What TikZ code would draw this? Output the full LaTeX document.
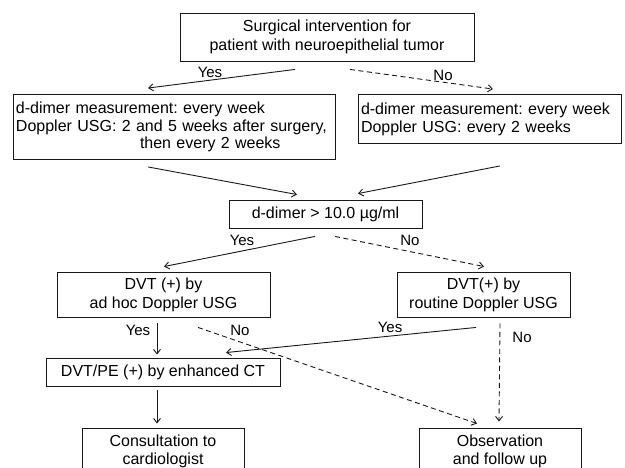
\documentclass[tikz,border=0pt]{standalone}
\usepackage{fontspec}
\setmainfont{Liberation Sans}
\usetikzlibrary{arrows.meta}
\begin{document}
\frenchspacing
\begin{tikzpicture}[x=1bp,y=-1bp,
  box/.style={draw=black!90, line width=0.9bp, inner sep=3bp, font=\fontsize{16bp}{19bp}\selectfont},
  arr/.style={draw=black!90, line width=0.9bp, -{Straight Barb[length=4.5bp,width=7bp]}},
  dsh/.style={arr, dash pattern=on 5bp off 3.5bp},
  lbl/.style={font=\fontsize{15bp}{18bp}\selectfont, inner sep=0pt}]
\useasboundingbox (0,0) rectangle (625,468);
\clip (0,0) rectangle (625,468);
% boxes
\node[box, minimum width=294bp, minimum height=48bp, align=center] (top) at (327,37)
  {Surgical intervention for\\patient with neuroepithelial tumor};
\node[box, minimum height=65bp, text width=316bp, align=left,
  font=\fontsize{16bp}{17.5bp}\selectfont] (lb) at (174,127)
  {d-dimer measurement: every week\\Doppler USG: 2 and 5 weeks after surgery,\\\hspace*{124bp}then every 2 weeks};
\node[box, minimum height=49bp, text width=257bp, align=left,
  font=\fontsize{16bp}{18bp}\selectfont] (rb) at (489.5,119)
  {d-dimer measurement: every week\\Doppler USG: every 2 weeks};
\node[box, minimum width=193bp, minimum height=28bp] (dd) at (325.5,214) {d-dimer > 10.0 µg/ml};
\node[box, minimum width=213bp, minimum height=45bp, align=center,
  font=\fontsize{16bp}{19bp}\selectfont] (dvl) at (163.5,294.5) {DVT (+) by\\ad hoc Doppler USG};
\node[box, minimum width=173bp, minimum height=45bp, align=center,
  font=\fontsize{16bp}{19bp}\selectfont] (dvr) at (483.5,294.5) {DVT(+) by\\routine Doppler USG};
\node[box, minimum width=234bp, minimum height=28bp] (ct) at (163,372) {DVT/PE (+) by enhanced CT};
\node[box, minimum width=162bp, minimum height=46bp, align=center,
  font=\fontsize{16bp}{18bp}\selectfont] (cons) at (163,451)
  {Consultation to\\cardiologist};
\node[box, minimum width=162bp, minimum height=46bp, align=center,
  font=\fontsize{16bp}{18bp}\selectfont] (obs) at (500,451)
  {Observation\\and follow up};
% connectors
\draw[arr] ([shift={(-32,8)}]top.south) -- ([shift={(-26,-6)}]lb.north);
\draw[dsh] ([shift={(23,8)}]top.south) -- ([shift={(3.5,-5)}]rb.north);
\draw[arr] ([shift={(-26,7)}]lb.south) -- ([shift={(-28.5,-5)}]dd.north);
\draw[arr] ([shift={(10.5,22)}]rb.south) -- ([shift={(32.5,-6)}]dd.north);
\draw[arr] ([shift={(-10.5,8)}]dd.south) -- ([shift={(0.5,-5)}]dvl.north);
\draw[dsh] ([shift={(9.5,8)}]dd.south) -- ([shift={(0.5,-5)}]dvr.north);
\draw[arr] ([shift={(-6.5,6)}]dvl.south) -- ([shift={(-6,-3)}]ct.north);
\draw[dsh] ([shift={(34.5,10)}]dvl.south) -- ([shift={(-23,-4)}]obs.north);
\draw[arr] ([shift={(-7.5,10)}]dvr.south) -- ([shift={(63,-5)}]ct.north);
\draw[dsh] ([shift={(16.5,6)}]dvr.south) -- ([shift={(-1,-6)}]obs.north);
\draw[arr] ([shift={(-6,4)}]ct.south) -- ([shift={(-6,-4)}]cons.north);
% labels
\node[lbl] (y1) at (210,72) {Yes};
\node[lbl] (n1) at (443,75) {No};
\node[lbl] (y2) at (242,240) {Yes};
\node[lbl] (n2) at (410,240) {No};
\node[lbl] (y3) at (138,330) {Yes};
\node[lbl] (n3) at (240,330) {No};
\node[lbl] (y4) at (390,327) {Yes};
\node[lbl] (n4) at (522,337) {No};
\end{tikzpicture}
\end{document}
